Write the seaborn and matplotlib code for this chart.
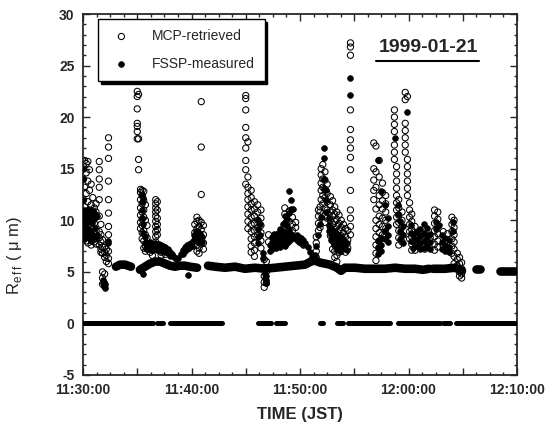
import matplotlib
matplotlib.use("Agg")
import matplotlib.pyplot as plt
from matplotlib.ticker import MultipleLocator, FuncFormatter
from matplotlib.lines import Line2D
import pandas as pd
import seaborn as sns

# time in minutes after 11:30:00 JST, Reff in micrometres
# each entry: (time, [Reff values seen at that time])
mcp_1130 = [
    (0.05, [15.2, 14.0, 12.0, 10.8, 9.5, 8.6]),
    (0.15, [15.8, 13.2, 11.3, 9.9, 8.9, 8.2]),
    (0.30, [15.5, 14.6, 12.6, 10.4, 9.2, 8.0]),
    (0.45, [15.7, 13.8, 11.8, 10.9, 9.6, 8.5, 7.8]),
    (0.60, [14.9, 12.9, 11.0, 10.1, 9.0, 8.3]),
    (0.75, [13.5, 11.5, 10.7, 9.4, 8.7, 7.6]),
    (0.90, [12.2, 10.9, 10.3, 9.1, 8.1]),
    (1.05, [11.2, 10.6, 9.7, 8.8, 7.9]),
    (1.20, [11.6, 10.8, 9.0, 8.4, 7.7]),
    (1.50, [15.7, 14.9, 14.0, 13.2, 12.0, 10.4, 8.9, 8.3, 7.6]),
    (1.65, [9.6, 8.6, 7.9, 7.2, 6.9]),
    (1.80, [8.1, 7.4, 6.8, 5.0, 4.4, 3.8]),
    (2.00, [7.4, 6.9, 6.4, 4.8, 3.6]),
    (2.15, [7.2, 6.6, 6.0]),
    (2.35, [18.0, 17.1, 16.0, 13.8, 12.0, 10.7, 9.4, 8.6, 7.0, 6.3, 5.8]),
]
mcp_1135 = [
    (5.00, [22.5, 22.0, 20.8, 19.4, 19.1, 18.6, 17.9]),
    (5.12, [22.2, 17.9, 15.9, 14.9]),
    (5.30, [13.0, 12.7, 12.0, 11.2, 10.5, 9.8, 9.2]),
    (5.45, [12.9, 12.4, 11.6, 10.8, 10.1, 9.5, 8.8, 8.2]),
    (5.60, [12.8, 11.9, 11.0, 10.3, 9.0, 8.0, 7.3]),
    (5.75, [11.5, 10.0, 8.6, 7.5, 7.0]),
    (5.90, [9.5, 8.3, 7.2]),
    (6.20, [7.4, 6.9]),
    (6.40, [7.1, 6.6]),
    (6.70, [12.0, 11.6, 11.2, 10.8, 10.4, 9.9, 9.4, 8.9, 8.4, 7.9]),
    (6.85, [11.8, 11.0, 10.2, 9.6, 9.1, 8.6, 7.6]),
    (7.20, [7.3, 6.9, 6.6]),
    (7.60, [7.1, 6.7]),
    (10.30, [9.6, 8.8, 8.0]),
    (10.50, [10.3, 9.9, 9.2, 8.5, 7.6, 7.0]),
    (10.70, [10.0, 9.4, 8.7, 8.1, 7.3, 6.8]),
    (10.90, [21.5, 17.1, 12.5, 9.8, 9.1, 8.4, 7.7]),
    (11.10, [9.5, 8.6, 7.8, 7.2]),
]
mcp_1145 = [
    (15.00, [22.1, 21.8, 20.7, 19.0, 18.0, 17.0, 15.8, 14.9, 13.5]),
    (15.20, [17.6, 14.2, 13.2, 12.6, 12.0, 11.3, 10.6, 9.9, 9.2]),
    (15.50, [12.9, 12.2, 11.6, 11.0, 10.3, 9.6, 8.9, 8.2, 7.5, 6.9]),
    (15.80, [11.8, 11.1, 10.4, 9.7, 9.0, 8.4, 7.8, 7.1, 6.5]),
    (16.10, [11.5, 10.8, 10.0, 9.3, 8.6]),
    (16.40, [11.0, 10.2, 9.5, 8.8, 8.0, 7.3]),
    (16.70, [6.2, 5.4, 4.6, 4.0, 3.5]),
    (16.90, [6.0, 5.0, 3.9]),
    (17.10, [8.6, 7.9]),
    (18.60, [11.2, 10.6]),
    (19.00, [10.9, 9.9]),
    (19.30, [10.3, 9.6, 9.0]),
    (19.60, [9.8, 9.3]),
    (21.50, [6.4, 7.0, 7.8, 8.4]),
    (21.70, [9.0, 9.7, 10.4, 11.0]),
    (21.85, [11.3, 10.8, 9.3]),
]
mcp_1152 = [
    (21.95, [15.0, 14.4, 13.6, 12.9, 12.0]),
    (22.10, [15.4, 14.0, 13.2, 12.4, 11.6]),
    (22.30, [14.7, 13.9, 13.0, 12.2, 11.2, 10.5, 9.8]),
    (22.50, [13.5, 12.6, 11.8, 11.0, 10.2]),
    (22.80, [12.3, 11.5, 10.8, 10.0, 9.3, 8.5]),
    (23.00, [11.9, 11.0, 10.4, 9.6, 8.8, 8.0, 7.2]),
    (23.20, [11.3, 10.6, 9.9, 9.1, 8.4, 7.7, 7.0, 6.4]),
    (23.40, [10.8, 10.1, 9.4, 8.6, 7.9, 7.2, 6.6, 6.0]),
    (23.60, [10.5, 9.7, 9.0, 8.2, 7.5, 6.9]),
    (23.80, [10.0, 9.3, 8.5, 7.8, 7.0]),
    (24.00, [9.6, 8.8, 8.1, 7.3]),
    (24.20, [9.2, 8.4, 7.6, 6.9]),
    (24.40, [9.0, 8.1, 7.3]),
    (24.65, [27.2, 26.8, 26.0, 20.7, 18.8, 17.8, 17.0, 16.1, 14.9, 12.9, 11.0, 10.2, 9.4, 8.6]),
]
mcp_1156 = [
    (26.80, [17.5, 15.0, 13.9, 12.9, 12.0]),
    (27.00, [17.2, 14.7, 13.2, 11.1, 10.0, 9.2, 8.4, 7.6, 6.8, 6.1]),
    (27.30, [15.8, 14.2, 12.4, 11.5, 10.4, 9.6, 8.8, 8.0, 7.2]),
    (27.60, [13.6, 12.7, 11.9, 11.1, 10.2, 9.4, 8.6]),
    (27.90, [12.4, 11.6, 10.8, 10.0, 9.2, 8.4]),
    (28.70, [20.7, 20.0, 19.3, 18.6, 17.3, 16.6, 15.9]),
    (28.90, [15.2, 14.5, 13.8, 13.1, 12.4, 11.7, 11.0, 10.3, 9.6]),
    (29.10, [12.0, 11.2, 10.5, 9.8, 9.0, 8.3, 7.6]),
    (29.40, [10.8, 10.0, 9.3, 8.6, 7.9]),
    (29.70, [22.4, 21.7, 19.4, 18.7, 18.0, 17.3, 16.6]),
    (29.90, [22.0, 15.9, 15.2, 14.5, 13.8, 13.1, 12.4]),
    (30.10, [11.7, 11.0, 10.3, 9.6, 8.9, 8.2]),
    (30.30, [10.6, 9.9, 9.1, 8.4, 7.7, 7.1]),
    (30.60, [9.4, 8.5, 7.8, 7.1]),
]
mcp_1201 = [
    (31.00, [8.0, 7.4]),
    (31.50, [8.6, 7.2]),
    (32.00, [8.3]),
    (32.40, [11.0, 10.4, 9.7, 9.0, 8.4, 7.7, 7.1]),
    (32.70, [10.8, 10.1, 9.4, 8.7, 8.0, 7.4]),
    (33.20, [8.9, 7.5]),
    (33.60, [8.7, 7.1]),
    (34.00, [10.3, 9.6, 8.9, 8.2, 7.5, 6.8]),
    (34.20, [10.0, 9.3, 8.6, 7.9, 7.2, 6.5, 5.8]),
    (34.50, [6.8, 6.2, 5.6]),
    (34.70, [6.4, 5.8, 5.0, 4.6]),
    (34.90, [5.9, 5.3, 4.8, 4.4]),
]

fssp_1130 = [
    (0.00, [15.0, 14.0, 12.0, 10.8, 9.8]),
    (0.10, [11.0, 10.5, 9.0, 8.2]),
    (0.25, [10.8, 10.2, 9.4, 8.6]),
    (0.40, [11.0, 10.6, 9.8, 8.4]),
    (0.55, [10.9, 10.0, 9.1, 8.3]),
    (0.70, [10.8, 10.4, 8.8, 8.0]),
    (0.85, [10.9, 9.7, 8.5]),
    (1.00, [10.7, 10.1, 8.2]),
    (1.15, [10.6, 9.3, 8.3]),
    (1.30, [10.4, 8.6]),
    (1.85, [4.2, 3.9]),
    (1.95, [4.0, 3.6]),
    (2.05, [3.8, 3.4]),
    (2.30, [7.8, 8.0]),
]
fssp_1135 = [
    (5.40, [12.5, 11.8, 11.0, 10.2]),
    (5.55, [12.2, 9.6, 8.8, 4.8]),
    (5.70, [8.4, 7.8]),
    (5.85, [7.9, 7.3]), (6.00, [7.8, 7.2]), (6.20, [7.9, 7.2]),
    (6.40, [7.7, 7.1]), (6.60, [7.8, 7.2]), (6.80, [7.7, 7.1]),
    (7.00, [7.7, 7.2]), (7.20, [7.6, 7.0]), (7.40, [7.5, 7.0]),
    (7.60, [7.4, 6.9]), (7.80, [7.2, 6.8]), (8.00, [6.9, 6.5]), (8.20, [6.7]),
    (8.40, [6.4]), (8.60, [6.2]), (8.80, [6.3]), (9.00, [6.7]),
    (9.20, [7.1, 6.7]), (9.40, [7.4, 7.0]), (9.60, [7.6, 7.2]), (9.70, [4.7]),
    (9.80, [7.7, 7.3]), (10.00, [7.9, 7.5]), (10.20, [8.1, 8.6]),
    (10.40, [8.3, 9.0, 8.6]), (10.60, [8.5, 8.9, 8.4, 7.9]),
    (10.80, [8.7, 8.1]), (11.00, [8.4, 7.9]),
]
fssp_1145 = [
    (16.10, [10.0, 9.2, 8.4, 7.8]), (16.30, [9.6, 8.6]),
    (16.60, [6.8, 6.3]), (16.75, [4.8, 4.4]), (16.90, [4.2, 3.9, 4.6]),
    (17.20, [7.0, 7.6]), (17.40, [7.2, 7.9, 8.4]), (17.60, [7.4, 8.1, 8.7]),
    (17.80, [7.3, 7.9, 8.5]), (18.00, [7.6, 8.2, 8.8]),
    (18.20, [7.4, 8.0, 8.6, 9.2]), (18.40, [7.7, 8.3, 9.0, 9.6]),
    (18.60, [7.5, 8.1, 8.8, 9.8, 10.4]), (18.80, [7.8, 8.4, 9.4, 10.1]),
    (19.00, [8.0, 8.6, 9.1, 10.7, 12.8]), (19.20, [8.2, 8.7, 11.1, 12.0]),
    (19.40, [8.5, 11.1]), (19.50, [8.3]),
    (19.70, [8.6, 8.1]), (19.90, [8.4, 7.9]), (20.10, [8.3, 7.8]),
    (20.30, [8.1, 7.6]), (20.50, [7.8]), (20.70, [7.4]), (20.90, [6.9]),
    (21.10, [6.4]), (21.20, [6.1]), (21.35, [6.6]), (21.50, [7.5]),
    (21.65, [8.6]), (21.80, [9.6]), (21.90, [10.3]),
]
fssp_1152 = [
    (22.20, [17.0, 16.0, 14.0, 13.0]), (22.40, [12.9, 12.0, 10.8]),
    (22.70, [10.2, 9.5, 9.0]), (22.90, [9.2, 8.6, 8.1]),
    (23.10, [9.0, 8.3, 7.6]), (23.30, [8.8, 8.1, 7.4]),
    (23.50, [8.6, 7.9, 7.2]), (23.70, [8.5, 7.7, 7.0]),
    (23.90, [8.2, 7.5]), (24.10, [8.0, 7.3]), (24.30, [7.8, 7.1]),
    (24.65, [23.8, 22.1]),
    (27.20, [15.8, 8.0, 7.4, 6.7]), (27.50, [12.8, 8.3, 7.6, 7.0]),
    (27.80, [11.5, 9.0, 8.2]), (28.10, [10.2, 9.4, 8.6, 7.9]),
    (28.80, [18.0]), (29.00, [11.5, 10.6]), (29.20, [9.9, 9.0, 8.2]),
    (29.50, [9.4, 8.6, 7.8]), (29.90, [20.5]), (30.20, [9.5, 8.8, 8.0]),
    (30.45, [8.6, 7.9, 7.3]),
]
fssp_1201 = [
    (30.80, [8.9, 8.2, 7.5]), (31.10, [9.2, 8.5, 7.8, 7.2]),
    (31.40, [9.6, 8.8, 8.0, 7.3]), (31.70, [9.3, 8.4, 7.6]),
    (32.00, [8.7, 7.9, 7.2]), (32.50, [9.8, 9.2]), (32.80, [9.5]),
    (33.10, [8.6, 7.9, 7.2]), (33.40, [8.3, 7.6, 7.0]),
    (33.70, [8.1, 7.4, 6.9]), (34.10, [9.8, 9.0]),
]

# FSSP clear-air background (~5.5 um), drawn as connected runs
band_seg = [0, 0, 0, 0,
            1, 1, 1, 1, 1, 1, 1, 1, 1, 1, 1, 1,
            2, 2, 2, 2, 2, 2, 2, 2, 2, 2, 2, 2, 2, 2, 2, 2, 2, 2, 2, 2, 2, 2, 2, 2, 2, 2, 2,
            3, 3, 3, 3,
            4, 4,
            5, 5]
band_t = [3.04, 3.41, 3.87, 4.42,
          5.25, 5.71, 6.18, 6.64, 7.10, 7.56, 8.02, 8.48, 8.94, 9.40, 9.86, 10.51,
          11.52, 12.17, 13.09, 14.01, 14.93, 15.85, 16.77, 17.70, 18.62, 19.54, 20.46,
          21.01, 21.38, 21.84, 22.76, 23.41, 23.78, 24.15, 25.07, 25.99, 26.91, 27.83,
          28.76, 29.68, 30.60, 31.34, 31.89,
          32.26, 33.36, 34.29, 34.93,
          36.22, 36.55,
          38.43, 39.82]
band_r = [5.5, 5.7, 5.7, 5.5,
          5.2, 5.5, 5.8, 6.0, 6.0, 5.8, 5.6, 5.5, 5.6, 5.6, 5.5, 5.4,
          5.6, 5.5, 5.4, 5.5, 5.3, 5.4, 5.3, 5.4, 5.5, 5.6, 5.7,
          6.0, 6.1, 5.9, 5.7, 5.4, 5.1, 5.4, 5.4, 5.3, 5.3, 5.3,
          5.4, 5.3, 5.3, 5.2, 5.3,
          5.3, 5.3, 5.4, 5.1,
          5.3, 5.3,
          5.1, 5.1]

# FSSP zero readings (no droplets), start/end of each run
zero_start = [0.00, 6.82, 8.02, 16.13, 17.79, 21.84, 23.41, 24.42, 29.03, 33.18, 34.38]
zero_end = [6.45, 7.37, 12.81, 17.33, 18.62, 22.12, 23.96, 28.29, 32.90, 33.82, 40.0]


def explode(cols):
    rows = [(t, r) for t, rs in cols for r in rs]
    return pd.DataFrame(rows, columns=["t", "r"])


mcp = explode(mcp_1130 + mcp_1135 + mcp_1145 + mcp_1152 + mcp_1156 + mcp_1201)
fssp = explode(fssp_1130 + fssp_1135 + fssp_1145 + fssp_1152 + fssp_1201)
band = pd.DataFrame({"t": band_t, "r": band_r, "seg": band_seg})
zero = pd.DataFrame({
    "t": [v for a, b in zip(zero_start, zero_end) for v in (a, b)],
    "r": 0.0,
    "seg": [i for i in range(len(zero_start)) for _ in (0, 1)],
})

sns.set_style("ticks")
plt.rcParams["font.family"] = ["Liberation Sans", "DejaVu Sans"]
plt.rcParams["axes.unicode_minus"] = False

fig = plt.figure(figsize=(5.56, 4.28), dpi=100)
ax = fig.add_axes([83 / 556, 53 / 428, 434 / 556, 361 / 428])

sns.scatterplot(data=mcp, x="t", y="r", marker="o", s=20, facecolors="none",
                edgecolor="black", linewidth=0.75, label="MCP-retrieved", ax=ax, zorder=2)
sns.scatterplot(data=fssp, x="t", y="r", marker="o", s=17, color="black",
                edgecolor="black", linewidth=0.5, label="FSSP-measured", ax=ax, zorder=3)
sns.lineplot(data=band, x="t", y="r", units="seg", estimator=None, color="black",
             lw=6.2, solid_capstyle="round", legend=False, ax=ax, zorder=3)
sns.lineplot(data=zero, x="t", y="r", units="seg", estimator=None, color="black",
             lw=3.6, solid_capstyle="round", legend=False, ax=ax, zorder=3)

ax.set_xlim(0, 40)
ax.set_ylim(-5, 30)


def hms(m, pos):
    m = int(round(m))
    if m % 10:
        return ""
    total = 11 * 60 + 30 + m
    return f"{total // 60}:{total % 60:02d}:00"


ax.xaxis.set_major_locator(MultipleLocator(5))
ax.xaxis.set_minor_locator(MultipleLocator(1.25))
ax.xaxis.set_major_formatter(FuncFormatter(hms))
ax.yaxis.set_major_locator(MultipleLocator(5))
ax.yaxis.set_minor_locator(MultipleLocator(1))
ax.tick_params(which="both", direction="in", top=True, right=True, width=1)
ax.tick_params(which="major", length=5, labelsize=10, pad=6)
ax.tick_params(which="minor", length=2.5)
for lab in ax.get_xticklabels() + ax.get_yticklabels():
    lab.set_fontweight("bold")
for sp in ax.spines.values():
    sp.set_linewidth(1.3)

ax.set_xlabel("TIME (JST)", fontsize=12, fontweight="bold", labelpad=7)
ax.set_ylabel("R$_\\mathregular{e\\,f\\,f}$ ( \u03bc m)", fontsize=12)
ax.yaxis.set_label_coords(-0.135, 0.33)

leg = ax.legend(loc="upper left", bbox_to_anchor=(0.034, 0.985), borderaxespad=0,
                frameon=True, fancybox=False, shadow={"color": "black", "alpha": 1},
                fontsize=10, labelspacing=1.0, handletextpad=1.2, borderpad=0.7,
                handlelength=2.0)
leg.get_frame().set_edgecolor("black")
leg.get_frame().set_linewidth(1.0)
leg.get_frame().set_alpha(1)

fig.text(428 / 556, 1 - 48 / 428, "1999-01-21", fontsize=14, fontweight="bold",
         ha="center", va="center")
fig.add_artist(Line2D([376 / 556, 479 / 556], [1 - 61 / 428, 1 - 61 / 428],
                      color="black", lw=1.5, transform=fig.transFigure))

fig.savefig("out.png", dpi=100, facecolor="white")
